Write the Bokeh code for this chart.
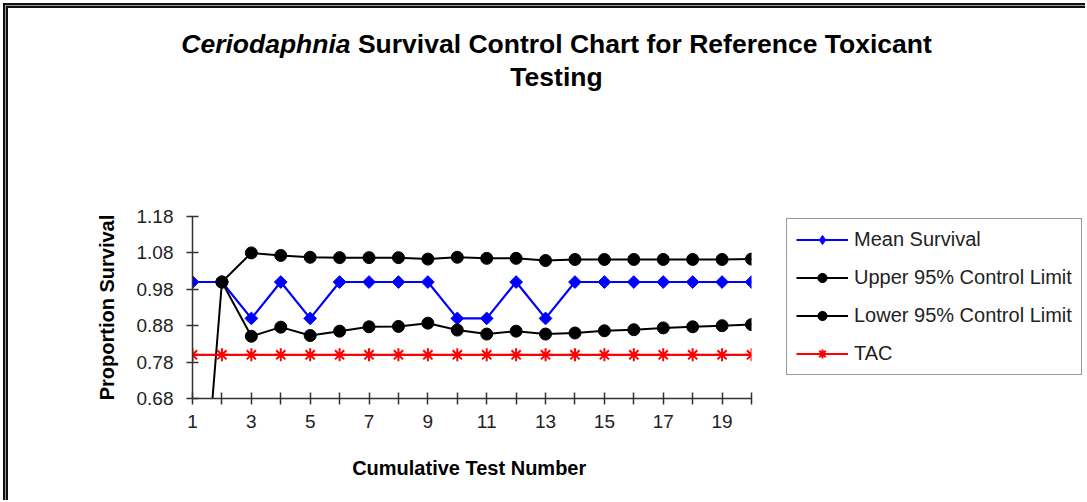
from bokeh.plotting import figure
from bokeh.layouts import column, row
from bokeh.models import (FixedTicker, Legend, LegendItem, ColumnDataSource,
                          Range1d, PrintfTickFormatter, Div)
from bokeh.embed import file_html
from bokeh.resources import INLINE
import math

NaN = float("nan")

tests = [1, 2, 3, 4, 5, 6, 7, 8, 9, 10, 11, 12, 13, 14, 15, 16, 17, 18, 19, 20]
mean_survival = [1.0, 1.0, 0.9, 1.0, 0.9, 1.0, 1.0, 1.0, 1.0, 0.9,
                 0.9, 1.0, 0.9, 1.0, 1.0, 1.0, 1.0, 1.0, 1.0, 1.0]
upper_limit = [NaN, 1.0, 1.080, 1.073, 1.068, 1.067, 1.067, 1.067, 1.063, 1.068,
               1.065, 1.065, 1.059, 1.062, 1.062, 1.062, 1.062, 1.062, 1.062, 1.063]
lower_limit = [0.0, 1.0, 0.851, 0.876, 0.853, 0.865, 0.877, 0.878, 0.887, 0.868,
               0.857, 0.865, 0.857, 0.860, 0.866, 0.869, 0.874, 0.877, 0.880, 0.883]
tac = [0.8, 0.8, 0.8, 0.8, 0.8, 0.8, 0.8, 0.8, 0.8, 0.8,
       0.8, 0.8, 0.8, 0.8, 0.8, 0.8, 0.8, 0.8, 0.8, 0.8]

y_ticks = [0.68, 0.78, 0.88, 0.98, 1.08, 1.18]
x_label_ticks = [1, 3, 5, 7, 9, 11, 13, 15, 17, 19]

title_italic = "Ceriodaphnia"
title_rest = " Survival Control Chart for Reference Toxicant"
title_line2 = "Testing"
series_names = ["Mean Survival", "Upper 95% Control Limit", "Lower 95% Control Limit", "TAC"]

FONT = "Liberation Sans"
TOTAL_W = 1085
TOTAL_H = 500
TITLE_H = 100
PLOT_H = TOTAL_H - TITLE_H
MAIN_W = 760
LEG_W = TOTAL_W - MAIN_W
FRAME_TOP, FRAME_BOTTOM = 216, 398   # page pixels

LEFT_RULE = ("inset 3px 0 0 0 #fff, inset 5px 0 0 0 #111, "
             "inset 6px 0 0 0 #999, inset 8px 0 0 0 #111")
CORNER_RULE = ("inset 3px 3px 0 0 #fff, inset 5px 5px 0 0 #111, "
               "inset 6px 6px 0 0 #999, inset 8px 8px 0 0 #111")

src = ColumnDataSource(dict(x=tests, mean=mean_survival, up=upper_limit, lo=lower_limit, tac=tac))

p = figure(width=MAIN_W, height=PLOT_H, output_backend="svg", toolbar_location=None,
           x_range=Range1d(1, 20), y_range=Range1d(0.68, 1.18),
           min_border_left=192, min_border_right=MAIN_W - 751,
           min_border_top=FRAME_TOP - TITLE_H, min_border_bottom=TOTAL_H - FRAME_BOTTOM,
           styles={"box-shadow": LEFT_RULE})
p.grid.visible = False
p.outline_line_color = None
p.background_fill_color = "white"
p.border_fill_alpha = 0.0

for ax in (p.xaxis[0], p.yaxis[0]):
    ax.axis_line_color = "#333333"
    ax.axis_line_width = 1.5
    ax.major_tick_line_color = "#333333"
    ax.major_tick_line_width = 1.5
    ax.major_tick_in = 6
    ax.major_tick_out = 6
    ax.minor_tick_line_color = None
    ax.major_label_text_font = FONT
    ax.major_label_text_font_size = "19px"
    ax.major_label_text_color = "#222222"
    ax.axis_label_text_font = FONT
    ax.axis_label_text_font_size = "20px"
    ax.axis_label_text_font_style = "bold"
    ax.axis_label_text_color = "#000000"

p.xaxis.ticker = FixedTicker(ticks=tests)
p.xaxis.major_label_overrides = {t: (str(t) if t in x_label_ticks else "") for t in tests}
p.xaxis.major_label_standoff = 10
p.xaxis.axis_label = "Cumulative  Test Number"
p.xaxis.axis_label_standoff = 26

p.yaxis.ticker = FixedTicker(ticks=y_ticks)
p.yaxis.formatter = PrintfTickFormatter(format="%.2f")
p.yaxis.major_label_standoff = 13
p.yaxis.axis_label = "Proportion Survival"
p.yaxis.axis_label_standoff = 16

# series (order as in the original: later series drawn on top)
p.line("x", "mean", source=src, line_color="#0000FF", line_width=2.2)
p.scatter("x", "mean", source=src, marker="square", size=9, angle=math.pi / 4,
          fill_color="#0000FF", line_color="#0000FF")
p.line("x", "up", source=src, line_color="#000000", line_width=2)
p.scatter("x", "up", source=src, marker="circle", size=12,
          fill_color="#000000", line_color="#000000")
p.line("x", "lo", source=src, line_color="#000000", line_width=2)
p.scatter("x", "lo", source=src, marker="circle", size=12,
          fill_color="#000000", line_color="#000000")
p.line("x", "tac", source=src, line_color="#FF0000", line_width=2.2)
p.scatter("x", "tac", source=src, marker="asterisk", size=13, line_width=2,
          line_color="#FF0000")

# legend panel: a second canvas beside the plot. Its renderers use the same
# series, but its ranges keep them out of view, so only the legend shows.
pl = figure(width=LEG_W, height=PLOT_H, output_backend="svg", toolbar_location=None,
            x_range=Range1d(-3, -2), y_range=Range1d(-3, -2),
            x_axis_type=None, y_axis_type=None,
            min_border_left=0, min_border_right=0,
            min_border_top=FRAME_TOP - TITLE_H, min_border_bottom=TOTAL_H - FRAME_BOTTOM)
pl.grid.visible = False
pl.outline_line_color = None
pl.background_fill_alpha = 0.0
pl.border_fill_alpha = 0.0

g1l = pl.line("x", "mean", source=src, line_color="#0000FF", line_width=2)
g1m = pl.scatter("x", "mean", source=src, marker="diamond", size=14,
                 fill_color="#0000FF", line_color="#0000FF")
g2l = pl.line("x", "up", source=src, line_color="#000000", line_width=2)
g2m = pl.scatter("x", "up", source=src, marker="circle", size=12,
                 fill_color="#000000", line_color="#000000")
g3l = pl.line("x", "lo", source=src, line_color="#000000", line_width=2)
g3m = pl.scatter("x", "lo", source=src, marker="circle", size=12,
                 fill_color="#000000", line_color="#000000")
g4l = pl.line("x", "tac", source=src, line_color="#FF0000", line_width=2)
g4m = pl.scatter("x", "tac", source=src, marker="asterisk", size=12, line_width=2,
                 line_color="#FF0000")

legend = Legend(items=[LegendItem(label=series_names[0], renderers=[g1l, g1m]),
                       LegendItem(label=series_names[1], renderers=[g2l, g2m]),
                       LegendItem(label=series_names[2], renderers=[g3l, g3m]),
                       LegendItem(label=series_names[3], renderers=[g4l, g4m])],
                location=(786 - MAIN_W, FRAME_BOTTOM - 375))
legend.label_text_font = FONT
legend.label_text_font_size = "20px"
legend.label_text_color = "#222222"
legend.glyph_width = 52
legend.glyph_height = 23
legend.label_height = 23
legend.label_standoff = 6
legend.spacing = 15
legend.padding = 9
legend.margin = 0
legend.border_line_color = "#333333"
legend.border_line_width = 1.5
legend.background_fill_color = "white"
legend.background_fill_alpha = 1.0
pl.add_layout(legend, "center")

title_html = (
    f'<div style="box-sizing:border-box;width:{TOTAL_W}px;padding-left:28px;padding-top:28px;'
    "text-align:center;font-family:'Liberation Sans',Arial,sans-serif;font-weight:bold;"
    'font-size:26.5px;line-height:33px;color:#000;">'
    f"<i>{title_italic}</i>{title_rest}<br>{title_line2}</div>"
)
title_div = Div(text=title_html, width=TOTAL_W, height=TITLE_H, margin=0,
                styles={"box-shadow": CORNER_RULE})

layout = column(title_div, row(p, pl, spacing=0), spacing=0)

html = file_html(layout, INLINE)
html = html.replace("</head>", "<style>html, body { overflow: hidden; }</style></head>", 1)
open("out.html", "w").write(html)
